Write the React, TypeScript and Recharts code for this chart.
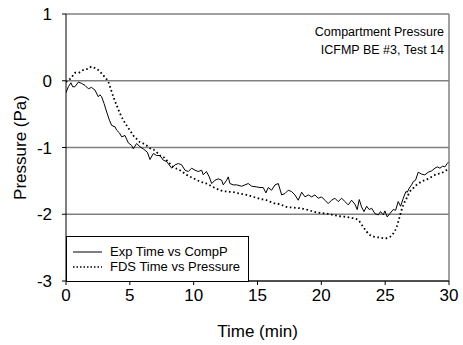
import { LineChart, Line, XAxis, YAxis, CartesianGrid, ReferenceLine, Legend } from 'recharts';

// Exp Time vs CompP (min, Pa)
const expTime = [
  0, 0.18, 0.39, 0.52, 0.7, 0.97, 1.23, 1.49, 1.75, 2.0, 2.27, 2.53, 2.66, 2.79, 2.98, 3.19, 3.4, 3.58, 3.84, 3.97,
  4.18, 4.36, 4.62, 4.88, 5.14, 5.27, 5.53, 5.8, 6.05, 6.37, 6.58, 6.84, 7.1, 7.36, 7.62, 7.88, 8.0, 8.28, 8.54, 8.8,
  9.06, 9.32, 9.58, 9.84, 10.1, 10.36, 10.63, 10.75, 11.0, 11.22, 11.41, 11.67, 11.93, 12.19, 12.32, 12.58, 12.71, 12.84, 13.1, 13.37,
  13.76, 14.02, 14.28, 14.54, 14.93, 15.19, 15.45, 15.66, 15.84, 16.1, 16.37, 16.63, 16.89, 17.15, 17.41, 17.67, 17.93, 18.19, 18.46, 18.72,
  18.98, 19.24, 19.5, 19.76, 20.02, 20.28, 20.54, 20.8, 21.06, 21.32, 21.59, 21.85, 22.11, 22.37, 22.63, 22.81, 22.97, 23.15, 23.34, 23.55,
  23.75, 23.94, 24.2, 24.46, 24.64, 24.85, 24.98, 25.16, 25.37, 25.63, 25.82, 26.02, 26.21, 26.42, 26.62, 26.73, 26.88, 27.07, 27.2, 27.38,
  27.59, 27.86, 28.11, 28.37, 28.64, 28.9, 29.08, 29.29, 29.5, 29.68, 29.86, 29.95,
];
const expPressure = [
  -0.18, -0.09, -0.03, -0.09, -0.09, -0.02, -0.04, -0.07, -0.12, -0.1, -0.14, -0.24, -0.21, -0.24, -0.34, -0.47, -0.59, -0.67, -0.69, -0.74,
  -0.78, -0.84, -0.82, -0.93, -0.97, -1.02, -0.94, -0.99, -1.02, -1.07, -1.18, -1.09, -1.12, -1.12, -1.19, -1.21, -1.24, -1.31, -1.26, -1.24,
  -1.26, -1.34, -1.36, -1.31, -1.34, -1.36, -1.34, -1.41, -1.36, -1.44, -1.54, -1.49, -1.47, -1.49, -1.56, -1.49, -1.44, -1.54, -1.56, -1.56,
  -1.58, -1.56, -1.54, -1.58, -1.59, -1.6, -1.6, -1.68, -1.6, -1.64, -1.56, -1.54, -1.71, -1.69, -1.64, -1.66, -1.71, -1.79, -1.67, -1.74,
  -1.71, -1.74, -1.71, -1.76, -1.74, -1.79, -1.84, -1.79, -1.76, -1.81, -1.76, -1.81, -1.86, -1.79, -1.85, -1.93, -1.78, -1.89, -1.96, -1.88,
  -1.93, -1.91, -1.99, -2.01, -1.96, -2.01, -1.95, -2.04, -1.99, -1.93, -1.94, -1.81, -1.88, -1.76, -1.66, -1.67, -1.61, -1.56, -1.51, -1.49,
  -1.37, -1.4, -1.41, -1.37, -1.35, -1.31, -1.29, -1.31, -1.28, -1.29, -1.24, -1.22,
];

// FDS Time vs Pressure (min, Pa)
const fdsTime = [
  0, 0.2, 0.44, 0.7, 0.97, 1.23, 1.49, 1.75, 2.0, 2.27, 2.53, 2.79, 3.05, 3.32, 3.45, 3.71, 3.97, 4.23, 4.49, 4.75,
  5.0, 5.27, 5.53, 5.79, 6.05, 6.31, 6.58, 6.84, 7.1, 7.36, 7.62, 7.88, 8.4, 8.92, 9.45, 9.97, 10.5, 11.0, 11.5, 12.06,
  12.58, 13.1, 13.6, 14.15, 14.67, 15.2, 15.71, 16.23, 16.76, 17.28, 17.8, 18.32, 18.85, 19.37, 19.9, 20.4, 20.93, 21.45, 21.98, 22.5,
  22.9, 23.28, 23.55, 23.81, 24.2, 24.59, 24.98, 25.37, 25.63, 25.9, 26.1, 26.28, 26.47, 26.68, 26.94, 27.2, 27.46, 27.85, 28.24, 28.64,
  29.03, 29.42, 29.81, 29.95,
];
const fdsPressure = [
  -0.02, 0.01, 0.05, 0.12, 0.12, 0.15, 0.17, 0.18, 0.21, 0.19, 0.16, 0.11, 0.05, -0.02, -0.09, -0.24, -0.37, -0.49, -0.59, -0.67,
  -0.74, -0.82, -0.87, -0.92, -0.94, -0.97, -1.01, -1.03, -1.07, -1.12, -1.14, -1.19, -1.29, -1.34, -1.41, -1.46, -1.51, -1.54, -1.59, -1.64,
  -1.66, -1.67, -1.69, -1.71, -1.74, -1.77, -1.79, -1.83, -1.85, -1.89, -1.9, -1.91, -1.93, -1.96, -1.98, -1.99, -2.01, -2.03, -2.04, -2.06,
  -2.09, -2.19, -2.26, -2.31, -2.34, -2.35, -2.36, -2.34, -2.29, -2.19, -2.06, -1.94, -1.84, -1.76, -1.66, -1.61, -1.56, -1.51, -1.48, -1.44,
  -1.4, -1.38, -1.34, -1.33,
];

const xTicks = [0, 5, 10, 15, 20, 25, 30];
const yTicks = [-3, -2, -1, 0, 1];
const titleLines = ['Compartment Pressure', 'ICFMP BE #3, Test 14'];

const expData = expTime.map((t, i) => ({ t, p: expPressure[i] }));
const fdsData = fdsTime.map((t, i) => ({ t, p: fdsPressure[i] }));

const FONT = '"Liberation Sans", Arial, sans-serif';

function YLabel() {
  return (
    <text
      x={20}
      y={147.5}
      transform="rotate(-90 20 147.5)"
      textAnchor="middle"
      dominantBaseline="central"
      fontSize={17}
      fontFamily={FONT}
      fill="#000"
    >
      Pressure (Pa)
    </text>
  );
}

function LegendBox() {
  const row = { display: 'flex', alignItems: 'center', height: 15 };
  return (
    <div
      style={{
        boxSizing: 'border-box',
        width: 183,
        height: 46,
        border: '1px solid #000',
        background: '#fff',
        padding: '7px 0 0 6px',
        fontFamily: FONT,
        fontSize: 13,
        color: '#000',
      }}
    >
      <div style={row}>
        <svg width={30} height={4} style={{ marginRight: 7 }}>
          <line x1={0} y1={2} x2={29} y2={2} stroke="#000" strokeWidth={1} />
        </svg>
        Exp Time vs CompP
      </div>
      <div style={row}>
        <svg width={30} height={4} style={{ marginRight: 7 }}>
          <line x1={0} y1={2} x2={29} y2={2} stroke="#000" strokeWidth={1.5} strokeDasharray="1.5 2" />
        </svg>
        FDS Time vs Pressure
      </div>
    </div>
  );
}

export default function App() {
  return (
    <div style={{ position: 'absolute', left: 0, top: 0, width: 463, height: 345, background: '#fff' }}>
      <LineChart width={463} height={345} margin={{ top: 14, right: 14, bottom: 0, left: 0 }}>
        <CartesianGrid vertical={false} stroke="#808080" strokeWidth={1.5} />
        <XAxis
          type="number"
          dataKey="t"
          domain={[0, 30]}
          ticks={xTicks}
          height={64}
          stroke="#000"
          tickSize={4}
          tickMargin={4}
          tick={{ fill: '#000', fontSize: 17, fontFamily: FONT }}
          label={{ value: 'Time (min)', position: 'insideBottom', offset: 8, fill: '#000', fontSize: 17, fontFamily: FONT }}
          allowDataOverflow
        />
        <YAxis
          type="number"
          domain={[-3, 1]}
          ticks={yTicks}
          width={66}
          stroke="#000"
          tickSize={4}
          tickMargin={10}
          tick={{ fill: '#000', fontSize: 17, fontFamily: FONT }}
          label={<YLabel />}
          allowDataOverflow
        />
        <ReferenceLine x={30} stroke="#808080" strokeWidth={1.5} />
        <Line
          data={expData}
          dataKey="p"
          type="linear"
          stroke="#000"
          strokeWidth={1}
          dot={false}
          isAnimationActive={false}
        />
        <Line
          data={fdsData}
          dataKey="p"
          type="monotone"
          stroke="#000"
          strokeWidth={1.8}
          strokeDasharray="1.6 2.6"
          dot={false}
          isAnimationActive={false}
        />
        <Legend
          layout="vertical"
          align="center"
          verticalAlign="middle"
          content={() => <LegendBox />}
          wrapperStyle={{ left: 66, top: 236, width: 183, height: 46 }}
        />
      </LineChart>
      <div
        style={{
          position: 'absolute',
          right: 19,
          top: 23,
          textAlign: 'right',
          fontFamily: FONT,
          fontSize: 12.5,
          lineHeight: '18px',
          color: '#000',
        }}
      >
        {titleLines.map((l) => (
          <div key={l}>{l}</div>
        ))}
      </div>
    </div>
  );
}
